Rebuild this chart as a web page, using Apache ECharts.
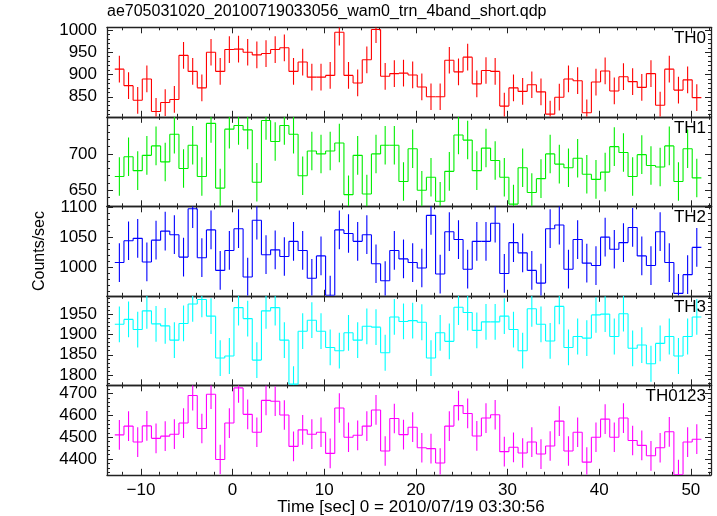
<!DOCTYPE html>
<html>
<head>
<meta charset="utf-8">
<script src="https://cdn.jsdelivr.net/npm/echarts@6/dist/echarts.min.js"></script>
<style>
html,body{margin:0;padding:0;background:#fff;}
#chart{width:717px;height:516px;}
</style>
</head>
<body>
<div id="chart"></div>
<script>
// ---- data ----
const titleText = 'ae705031020_20100719033056_wam0_trn_4band_short.qdp';
const xTitle = 'Time [sec] 0 = 2010/07/19 03:30:56';
const yTitle = 'Counts/sec';
const panelNames = ['TH0', 'TH1', 'TH2', 'TH3', 'TH0123'];

const times = [-12.35,-11.35,-10.35,-9.35,-8.35,-7.35,-6.35,-5.35,-4.35,-3.35,
  -2.35,-1.35,-0.35,0.65,1.65,2.65,3.65,4.65,5.65,6.65,
  7.65,8.65,9.65,10.65,11.65,12.65,13.65,14.65,15.65,16.65,
  17.65,18.65,19.65,20.65,21.65,22.65,23.65,24.65,25.65,26.65,
  27.65,28.65,29.65,30.65,31.65,32.65,33.65,34.65,35.65,36.65,
  37.65,38.65,39.65,40.65,41.65,42.65,43.65,44.65,45.65,46.65,
  47.65,48.65,49.65,50.65];

const th0 = [912,875,842,890,817,837,844,943,907,870,950,907,956,957,950,944,947,956,960,907,
  928,894,894,898,995,898,881,933,1001,896,902,903,899,872,850,850,932,906,939,879,
  909,907,829,870,862,877,861,811,849,890,886,814,883,908,863,895,884,871,902,831,
  912,865,888,848];
const th1 = [669,696,677,698,711,689,727,680,712,669,742,653,734,739,733,661,746,717,739,727,
  670,704,700,704,715,644,698,645,700,712,712,662,707,650,668,635,676,726,719,677,
  708,691,668,631,681,647,666,700,686,681,694,672,665,675,710,702,669,699,684,682,
  711,662,707,667];
const th2 = [1008,1044,1048,1009,1045,1060,1054,1017,1097,1016,1062,995,1028,1064,984,1078,1021,1029,1018,1043,
  1028,982,1019,954,1062,1056,1043,1054,1006,978,1028,1014,1008,999,1086,989,1059,1046,997,1043,
  1043,1073,990,1041,1024,995,974,1064,1070,997,1046,1007,1003,1050,1030,1041,1066,1019,1003,1059,
  1008,957,988,1033];
const th3 = [1925,1937,1912,1958,1926,1921,1886,1927,1975,1986,1945,1842,1847,1966,1939,1837,1958,1966,1886,1778,
  1908,1935,1908,1868,1860,1904,1886,1920,1918,1855,1943,1932,1934,1930,1842,1904,1883,1967,1954,1910,
  1931,1931,1945,1912,1860,1963,1925,1884,1969,1868,1895,1891,1948,1950,1895,1951,1866,1874,1828,1878,
  1895,1847,1895,1943];
const th0123 = [4511,4551,4478,4552,4495,4505,4514,4565,4691,4540,4697,4398,4565,4726,4605,4523,4669,4665,4602,4458,
  4534,4514,4523,4426,4634,4500,4509,4551,4625,4437,4586,4512,4546,4452,4448,4382,4551,4645,4609,4506,
  4588,4603,4434,4454,4428,4478,4423,4460,4574,4437,4523,4386,4500,4583,4500,4588,4485,4463,4415,4452,
  4525,4329,4478,4491];

// error half-widths per band
const errTH0 = 30, errTH1 = 26.5, errTH2 = 32, errTH3 = 44, errTH0123 = 68;
const binWidth = 1.0;

// tick labels
const xMajorTicks = [-10, 0, 10, 20, 30, 40, 50];
const yMajorTicks = [
  [850, 900, 950, 1000],
  [650, 700],
  [1000, 1050, 1100],
  [1800, 1850, 1900, 1950],
  [4400, 4500, 4600, 4700]
];
const yMinorStep = [10, 10, 10, 10, 20];
const xMinorStep = 2;

// ---- layout / style ----
const X_MIN = -13.7, X_MAX = 52.2;
const yRanges = [[805, 1006], [628, 751], [953, 1101], [1775, 1995], [4328, 4738]];
const colors = ['#ff0000', '#00ee00', '#0000ff', '#00ffff', '#ff00ff'];
const seriesValues = [th0, th1, th2, th3, th0123];
const seriesErrs = [errTH0, errTH1, errTH2, errTH3, errTH0123];

const GRID_LEFT = 107, GRID_RIGHT = 6, GRID_TOP = 27.3, PANEL_H = 89.5;
const FONT = 'Liberation Sans, Arial, Helvetica, sans-serif';
const FS = 16;
const TFS = 17;
const AX = '#222';

function minorList(lo, hi, step) {
  const out = [];
  for (let v = Math.ceil(lo / step) * step; v <= hi + 1e-9; v += step) out.push(Math.round(v * 1000) / 1000);
  return out;
}

const grids = [], xAxes = [], yAxes = [], series = [], graphics = [];
for (let k = 0; k < 5; k++) {
  grids.push({ left: GRID_LEFT, right: GRID_RIGHT, top: GRID_TOP + k * PANEL_H, height: PANEL_H, show: false, outerBoundsMode: 'none', containLabel: false });
  const xMinor = minorList(X_MIN, X_MAX, xMinorStep);
  const baseX = { gridIndex: k, type: 'value', min: X_MIN, max: X_MAX, splitLine: { show: false }, axisPointer: { show: false } };
  const xIdx = xAxes.length;
  xAxes.push(Object.assign({}, baseX, {
    position: 'bottom',
    axisLine: { show: true, onZero: false, lineStyle: { color: AX, width: 1.3 } },
    axisTick: { show: true, inside: true, length: 6, customValues: xMajorTicks, lineStyle: { color: AX, width: 1 } },
    axisLabel: { show: k === 4, customValues: xMajorTicks, color: '#000', fontFamily: FONT, fontSize: TFS, margin: 7,
      formatter: v => (v < 0 ? '\u2212' + Math.abs(v) : String(v)) }
  }));
  xAxes.push(Object.assign({}, baseX, {
    position: 'bottom',
    axisLine: { show: false, onZero: false },
    axisTick: { show: true, inside: true, length: 3, customValues: xMinor, lineStyle: { color: AX, width: 1 } },
    axisLabel: { show: false }
  }));
  xAxes.push(Object.assign({}, baseX, {
    position: 'top',
    axisLine: { show: true, onZero: false, lineStyle: { color: AX, width: 1.3 } },
    axisTick: { show: true, inside: true, length: 6, customValues: xMajorTicks, lineStyle: { color: AX, width: 1 } },
    axisLabel: { show: false }
  }));
  xAxes.push(Object.assign({}, baseX, {
    position: 'top',
    axisLine: { show: false, onZero: false },
    axisTick: { show: true, inside: true, length: 3, customValues: xMinor, lineStyle: { color: AX, width: 1 } },
    axisLabel: { show: false }
  }));

  const [ymin, ymax] = yRanges[k];
  const yMinor = minorList(ymin, ymax, yMinorStep[k]);
  const baseY = { gridIndex: k, type: 'value', min: ymin, max: ymax, splitLine: { show: false }, axisPointer: { show: false } };
  const yIdx = yAxes.length;
  yAxes.push(Object.assign({}, baseY, {
    position: 'left',
    axisLine: { show: true, onZero: false, lineStyle: { color: AX, width: 1.3 } },
    axisTick: { show: true, inside: true, length: 6, customValues: yMajorTicks[k], lineStyle: { color: AX, width: 1 } },
    axisLabel: { show: true, customValues: yMajorTicks[k], color: '#000', fontFamily: FONT, fontSize: TFS, margin: 10,
      formatter: v => String(v) }
  }));
  yAxes.push(Object.assign({}, baseY, {
    position: 'left',
    axisLine: { show: false, onZero: false },
    axisTick: { show: true, inside: true, length: 3, customValues: yMinor, lineStyle: { color: AX, width: 1 } },
    axisLabel: { show: false }
  }));
  yAxes.push(Object.assign({}, baseY, {
    position: 'right',
    axisLine: { show: true, onZero: false, lineStyle: { color: AX, width: 1.3 } },
    axisTick: { show: true, inside: true, length: 6, customValues: yMajorTicks[k], lineStyle: { color: AX, width: 1 } },
    axisLabel: { show: false }
  }));
  yAxes.push(Object.assign({}, baseY, {
    position: 'right',
    axisLine: { show: false, onZero: false },
    axisTick: { show: true, inside: true, length: 3, customValues: yMinor, lineStyle: { color: AX, width: 1 } },
    axisLabel: { show: false }
  }));

  const vals = seriesValues[k];
  const data = times.map((t, i) => [t, vals[i], seriesErrs[k], i + 1 < vals.length ? vals[i + 1] : NaN]);
  const color = colors[k];
  series.push({
    type: 'custom',
    xAxisIndex: xIdx,
    yAxisIndex: yIdx,
    clip: true,
    encode: { x: 0, y: 1 },
    data: data,
    silent: true,
    renderItem: function (params, api) {
      const cs = params.coordSys;
      const cy = y => Math.max(cs.y, Math.min(cs.y + cs.height, y));
      const cx = x => Math.max(cs.x, Math.min(cs.x + cs.width, x));
      const t = api.value(0), v = api.value(1), e = api.value(2), vn = api.value(3);
      const pl = api.coord([t - binWidth / 2, v]);
      const pr = api.coord([t + binWidth / 2, v]);
      const pc = api.coord([t, v]);
      const pHi = api.coord([t, v + e]);
      const pLo = api.coord([t, v - e]);
      const children = [];
      const st = { stroke: color, lineWidth: 1.1, fill: null };
      children.push({ type: 'line', shape: { x1: cx(pl[0]), y1: cy(pl[1]), x2: cx(pr[0]), y2: cy(pr[1]) }, style: st });
      children.push({ type: 'line', shape: { x1: pc[0], y1: cy(pHi[1]), x2: pc[0], y2: cy(pLo[1]) }, style: st });
      if (!isNaN(vn)) {
        const pn = api.coord([t + binWidth / 2, vn]);
        children.push({ type: 'line', shape: { x1: pr[0], y1: cy(pr[1]), x2: pr[0], y2: cy(pn[1]) }, style: st });
      }
      return { type: 'group', children: children };
    }
  });

  graphics.push({
    type: 'text', right: 11, top: GRID_TOP + k * PANEL_H + 3,
    style: { text: panelNames[k], fill: '#000', font: '17px ' + FONT }
  });
}

graphics.push({ type: 'text', left: 107, top: 4, style: { text: titleText, fill: '#000', font: FS + 'px ' + FONT } });
graphics.push({ type: 'text', x: 411, y: 507, style: { text: xTitle, fill: '#000', font: '17px ' + FONT, align: 'center', verticalAlign: 'middle' } });
graphics.push({ type: 'text', x: 40, y: 251, rotation: Math.PI / 2,
  style: { text: yTitle, fill: '#000', font: FS + 'px ' + FONT, align: 'center', verticalAlign: 'middle' } });

const chart = echarts.init(document.getElementById('chart'), null, { renderer: 'canvas' });
chart.setOption({
  backgroundColor: '#fff',
  animation: false,
  grid: grids,
  xAxis: xAxes,
  yAxis: yAxes,
  series: series,
  graphic: graphics
});
</script>
</body>
</html>
